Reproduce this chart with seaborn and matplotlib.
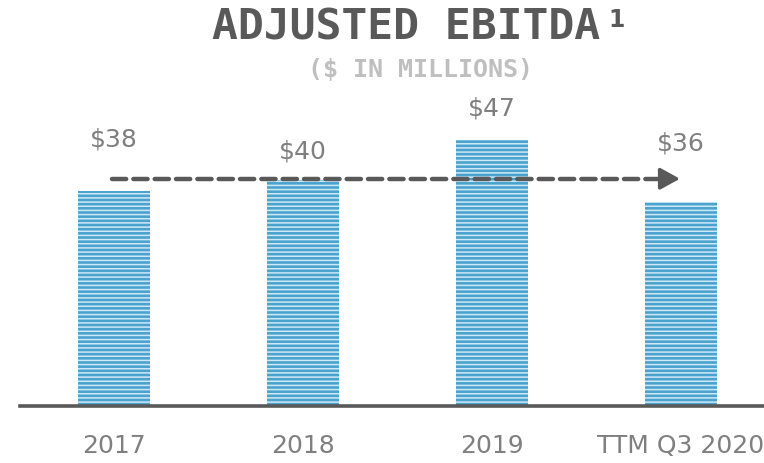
import matplotlib
matplotlib.use("Agg")
import matplotlib.pyplot as plt
import seaborn as sns

# data
categories = ["2017", "2018", "2019", "TTM Q3 2020"]
values = [38, 40, 47, 36]
value_labels = ["$38", "$40", "$47", "$36"]

# where the value labels sit (data units) - they dodge the arrow
label_y = [47.1, 45.0, 52.7, 46.5]
arrow_y = 40.2

sns.set_theme(style="white")
plt.rcParams["font.family"] = ["DejaVu Sans"]
plt.rcParams["hatch.linewidth"] = 1.1

BLUE = "#4aa3cf"
STRIPE = "#cfe8f5"
DARK = "#595959"
GREY = "#7f7f7f"

fig = plt.figure(figsize=(7.64, 4.63), dpi=100)
ax = fig.add_axes([20 / 764, 57 / 463, 1 - 20 / 764, 316 / 463])

sns.barplot(x=categories, y=values, color=BLUE, width=0.38, saturation=1, ax=ax)
for bar in ax.patches:
    bar.set_hatch("----")
    bar.set_edgecolor(STRIPE)
    bar.set_linewidth(0)

for i, (lab, ly) in enumerate(zip(value_labels, label_y)):
    ax.text(i, ly, lab, ha="center", va="center", fontsize=18, color=GREY)

# dashed trend arrow
ax.plot([-0.01, 2.9], [arrow_y, arrow_y], color=DARK, lw=3.2,
        dashes=(3.2, 1.6), solid_capstyle="round", dash_capstyle="round")
ax.annotate("", xy=(2.995, arrow_y), xytext=(2.88, arrow_y),
            arrowprops=dict(arrowstyle="-|>,head_length=1.0,head_width=0.55",
                            color=DARK, lw=2.5, shrinkA=0, shrinkB=0))

ax.set_xlim(-0.497, 3.44)
ax.set_ylim(0, 55.9)
ax.set_yticks([])
ax.set_xlabel("")
ax.set_ylabel("")
for s in ["top", "right", "left"]:
    ax.spines[s].set_visible(False)
ax.spines["bottom"].set_color(DARK)
ax.spines["bottom"].set_linewidth(2.6)
ax.tick_params(axis="x", length=0, pad=20, labelsize=18, labelcolor=GREY)

fig.text(406 / 764, 1 - 28 / 463, "ADJUSTED EBITDA", ha="center", va="center",
         fontsize=31, fontweight="bold", color=DARK, family="DejaVu Sans Mono")
fig.text(608 / 764, 1 - 20 / 463, "1", ha="left", va="center",
         fontsize=17, fontweight="bold", color=DARK, family="DejaVu Sans")
fig.text(420 / 764, 1 - 70 / 463, "($ IN MILLIONS)", ha="center", va="center",
         fontsize=18, fontweight="bold", color="#bfbfbf", family="DejaVu Sans Mono")

fig.savefig("out.png", dpi=100)
